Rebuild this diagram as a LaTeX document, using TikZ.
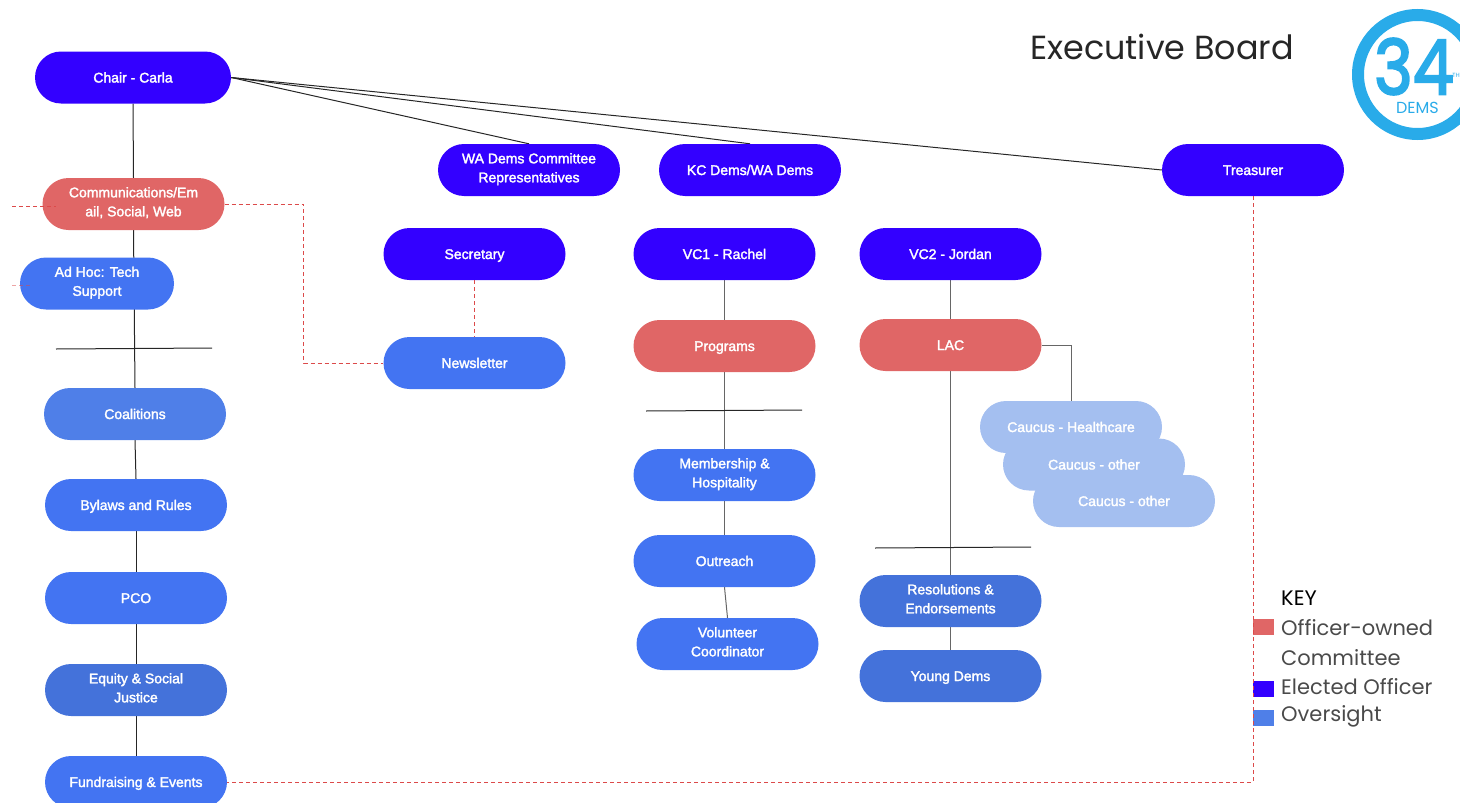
\documentclass[tikz,border=0pt]{standalone}
\usepackage{fontspec}
\setmainfont{Liberation Sans}
\newfontfamily\pillfont[FakeBold=2]{Liberation Sans}
\newfontfamily\keyfont{Poppins}
\newfontfamily\logofont[FakeBold=3]{Poppins}
\usetikzlibrary{shapes.misc,backgrounds}
\definecolor{officerblue}{HTML}{3300FF}
\definecolor{ownedred}{HTML}{E06666}
\definecolor{sightblue}{HTML}{4374F2}
\definecolor{softblue}{HTML}{4F7FE8}
\definecolor{deepblue}{HTML}{4472DA}
\definecolor{paleblue}{HTML}{A4BFF0}
\definecolor{logoblue}{HTML}{29ABE9}
\definecolor{keygray}{HTML}{4A4A4A}
\definecolor{dashred}{HTML}{DC4A4A}
\newcommand{\pillstrut}{\leavevmode\vrule height 14.5pt depth 4.5pt width 0pt\relax}
\tikzset{
  pill/.style={rounded rectangle, draw=none, minimum width=182, minimum height=52, inner sep=0pt,
    text=white, align=center, font=\pillfont\fontsize{14}{19}\selectfont,
    execute at begin node=\pillstrut, execute at end node=\pillstrut},
  officer/.style={pill, fill=officerblue},
  owned/.style={pill, fill=ownedred},
  sight/.style={pill, fill=sightblue},
  caucus/.style={pill, fill=paleblue},
  link/.style={black!85, line width=1},
  greylink/.style={black!60, line width=1},
  reddash/.style={dashred, line width=1, dash pattern=on 4pt off 3pt},
  swatch/.style={minimum width=21, minimum height=16, inner sep=0pt},
  keytext/.style={anchor=west, inner sep=0pt, text=keygray, font=\keyfont\fontsize{21}{24}\selectfont},
}
\begin{document}
\begin{tikzpicture}[x=1pt, y=-1pt]
  \useasboundingbox (0,0) rectangle (1460,803);

  % elected officers
  \node[officer, minimum width=196] (chair) at (133,77.5) {Chair - Carla};
  \node[officer] (wadems) at (529,170) {WA Dems Committee\\Representatives};
  \node[officer] (kcdems) at (750,170) {KC Dems/WA Dems};
  \node[officer] (treasurer) at (1253,170) {Treasurer};
  \node[officer] (secretary) at (474.5,254) {Secretary};
  \node[officer] (vcone) at (724.5,254) {VC1 - Rachel};
  \node[officer] (vctwo) at (950.5,254) {VC2 - Jordan};

  % left column
  \node[owned] (comms) at (133.5,204) {Communications/Em\\ail, Social, Web};
  \node[sight, minimum width=154] (adhoc) at (97,283.5) {Ad Hoc: Tech\\Support};
  \node[pill, fill=softblue] (coalitions) at (135,414) {Coalitions};
  \node[sight] (bylaws) at (136,505) {Bylaws and Rules};
  \node[sight] (pco) at (136,598) {PCO};
  \node[pill, fill=deepblue] (equity) at (136,690) {Equity \& Social\\Justice};
  \node[sight] (fundraising) at (136,782) {Fundraising \& Events};

  % middle columns
  \node[sight] (newsletter) at (474.5,363) {Newsletter};
  \node[owned] (programs) at (724.5,346) {Programs};
  \node[sight] (membership) at (724.5,475) {Membership \&\\Hospitality};
  \node[sight] (outreach) at (724.5,561) {Outreach};
  \node[sight] (volunteer) at (727.5,644) {Volunteer\\Coordinator};
  \node[owned] (lac) at (950.5,345) {LAC};
  \node[pill, fill=deepblue] (resolutions) at (950.5,601) {Resolutions \&\\Endorsements};
  \node[pill, fill=deepblue] (youngdems) at (950.5,676) {Young Dems};

  % caucus stack
  \node[caucus] (caucusc) at (1124,501) {Caucus - other};
  \node[caucus] (caucusb) at (1094,464.5) {Caucus - other};
  \node[caucus] (caucusa) at (1071,427) {Caucus - Healthcare};

  % free ends
  \coordinate (commsleft) at (12,206);
  \coordinate (commsin) at (56,206);
  \coordinate (adhocleft) at (12,285);
  \coordinate (adhocin) at (30,285);
  \coordinate (sepaleft) at (56,349);
  \coordinate (separight) at (212,348);
  \coordinate (sepbleft) at (646,411);
  \coordinate (sepbright) at (802,410);
  \coordinate (sepcleft) at (875,548);
  \coordinate (sepcright) at (1031,547);

  \begin{scope}[on background layer]
    \draw[link] (chair.east) -- (wadems.north);
    \draw[link] (chair.east) -- (kcdems.north);
    \draw[link] (chair.east) -- (treasurer.west);
    \draw[link] (chair.south) -- (comms.north);
    \draw[link] (comms.south) -- (coalitions.north);
    \draw[link] (coalitions.south) -- (bylaws.north);
    \draw[link] (bylaws.south) -- (pco.north);
    \draw[link] (pco.south) -- (equity.north);
    \draw[link] (equity.south) -- (fundraising.north);
    \draw[greylink] (vcone.south) -- (programs.north);
    \draw[greylink] (programs.south) -- (membership.north);
    \draw[greylink] (membership.south) -- (outreach.north);
    \draw[greylink] (outreach.south) -- (volunteer.north);
    \draw[greylink] (vctwo.south) -- (lac.north);
    \draw[greylink] (lac.south) -- (resolutions.north);
    \draw[greylink] (resolutions.south) -- (youngdems.north);
    \draw[greylink] (lac.east) -| (caucusa.north);
  \end{scope}

  \draw[link] (sepaleft) -- (separight);
  \draw[link] (sepbleft) -- (sepbright);
  \draw[link] (sepcleft) -- (sepcright);

  \draw[reddash] (comms.east) -- ++(79,0) |- (newsletter.west);
  \draw[reddash] (secretary.south) -- (newsletter.north);
  \draw[reddash] (commsleft) -- (commsin);
  \draw[reddash, opacity=0.5] (adhocleft) -- (adhocin);

  % title and logo
  \node[inner sep=0pt, text=black!85, font=\keyfont\fontsize{33.4}{38}\selectfont] (title) at (1162,47) {Executive Board};
  \node[circle, draw=logoblue, line width=12, minimum size=119, inner sep=0pt] (logoring) at (1417.5,74.5) {};
  \node[inner sep=0pt, text=logoblue, font=\logofont\fontsize{76}{78}\selectfont, xscale=0.86] (logonum) at (1414,66.5) {34};
  \node[inner sep=0pt, text=logoblue, font=\keyfont\fontsize{6}{7}\selectfont] (logoth) at (1456,75) {TH};
  \node[inner sep=0pt, text=logoblue, font=\keyfont\fontsize{16}{17}\selectfont] (logodems) at (1417.5,108) {DEMS};

  % key
  \node[keytext, text=black] (keyhead) at (1281,598) {KEY};
  \node[swatch, fill=ownedred] (keyred) at (1263.5,627) {};
  \node[keytext] (keyowned) at (1281,628) {Officer-owned};
  \node[keytext] (keycommittee) at (1281,658) {Committee};
  \node[swatch, fill=officerblue] (keydark) at (1263.5,689) {};
  \node[keytext] (keyelected) at (1281,687) {Elected Officer};
  \node[swatch, fill=softblue] (keylight) at (1263.5,718) {};
  \node[keytext] (keyoversight) at (1281,716) {Oversight};

  \draw[reddash] (treasurer.south) |- (fundraising.east);
\end{tikzpicture}
\end{document}
